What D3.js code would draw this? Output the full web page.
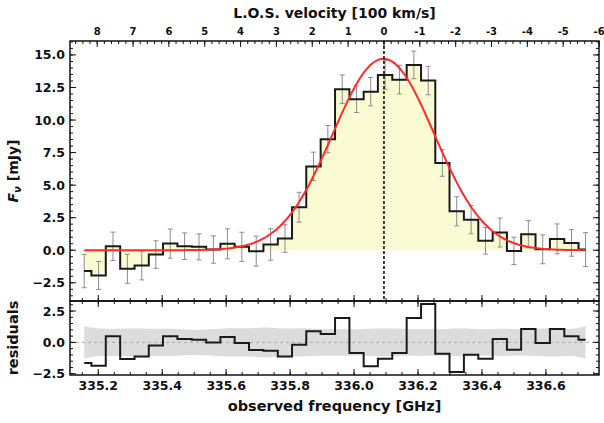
<!DOCTYPE html>
<html>
<head>
<meta charset="utf-8">
<script src="https://cdn.jsdelivr.net/npm/d3@7"></script>
<style>
  body { margin: 0; background: #fff; }
  svg { display: block; }
  text { font-family: "DejaVu Sans", sans-serif; font-weight: bold; fill: #111; }
</style>
</head>
<body>
<svg id="chart" width="604" height="423"></svg>
<script>
// Channel centres (GHz)
const freqGHz = [
  335.156, 335.201, 335.246, 335.291, 335.336, 335.380, 335.425, 335.470, 335.515,
  335.560, 335.604, 335.649, 335.694, 335.739, 335.784, 335.828, 335.873, 335.918,
  335.963, 336.008, 336.052, 336.097, 336.142, 336.187, 336.232, 336.276, 336.321,
  336.366, 336.411, 336.456, 336.500, 336.545, 336.590, 336.635, 336.680, 336.724
];
// Flux density per channel (mJy)
const fluxMJy = [
  -1.60, -1.94, 0.30, -1.43, -1.17, -0.33, 0.51, 0.31, 0.26,
  0.05, 0.49, 0.26, -0.07, 0.44, 0.90, 3.30, 6.44, 8.53,
  12.37, 11.60, 12.18, 13.46, 13.10, 14.23, 13.03, 6.70, 2.99,
  2.35, 0.72, 1.36, -0.05, 1.23, 0.07, 0.87, 0.56, 0.05
];
// 1-sigma channel uncertainties (mJy)
const fluxErr = [
  1.28, 1.07, 1.09, 1.11, 1.11, 1.06, 1.12, 1.02, 1.00,
  1.05, 1.15, 1.12, 1.15, 1.21, 1.06, 1.15, 1.09, 1.05,
  1.09, 1.02, 1.09, 1.10, 1.10, 1.06, 1.09, 1.02, 1.12,
  1.09, 1.02, 1.11, 1.05, 1.05, 1.11, 1.15, 1.02, 1.30
];
// Data minus Gaussian model (mJy)
const residMJy = [
  -1.65, -1.86, 0.48, -1.33, -1.12, -0.24, 0.48, 0.27, 0.21,
  0.00, 0.43, -0.05, -0.61, -0.66, -1.12, -0.19, 0.88, 0.66,
  1.94, -0.85, -1.91, -1.30, -0.85, 1.94, 3.06, -0.90, -2.37,
  -0.98, -1.30, 0.27, -0.59, 1.06, -0.05, 1.06, 0.48, 0.21
];

// Single Gaussian line fit
const fitPeakMJy = 14.7;
const fitCentreGHz = 336.092;
const fitSigmaGHz = 0.159;

// Velocity reference frequency (v = 0)
const restFreqGHz = 336.0935;
const cKms = 299792.458;

// Axis limits and ticks
const freqLimits = [335.1116, 336.766];
const fluxLimits = [-3.9, 16.07];
const residLimits = [-2.6, 3.3];
const freqTicks = [335.2, 335.4, 335.6, 335.8, 336.0, 336.2, 336.4, 336.6];
const velTicks = [8, 7, 6, 5, 4, 3, 2, 1, 0, -1, -2, -3, -4, -5, -6];
const fluxTicks = [-2.5, 0, 2.5, 5, 7.5, 10, 12.5, 15];
const residTicks = [-2.5, 0, 2.5];

// Panel geometry
const L = 70, R = 599, T = 41, MID = 301, B = 375;

const svg = d3.select("#chart");

const x = d3.scaleLinear().domain(freqLimits).range([L, R]);
const y = d3.scaleLinear().domain(fluxLimits).range([MID, T]);
const yr = d3.scaleLinear().domain(residLimits).range([B, MID]);
const toVel = f => cKms * (restFreqGHz - f) / restFreqGHz / 100;
const xv = d3.scaleLinear().domain(freqLimits.map(toVel)).range([L, R]);

const chan = freqGHz.map((f, i) => ({ f, v: fluxMJy[i], e: fluxErr[i], r: residMJy[i] }));

const defs = svg.append("defs");
defs.append("clipPath").attr("id", "clipMain")
  .append("rect").attr("x", L).attr("y", T).attr("width", R - L).attr("height", MID - T);
defs.append("clipPath").attr("id", "clipRes")
  .append("rect").attr("x", L).attr("y", MID).attr("width", R - L).attr("height", B - MID);

// ---------- main spectrum panel ----------
const gMain = svg.append("g").attr("clip-path", "url(#clipMain)");

gMain.append("path").datum(chan)
  .attr("d", d3.area().curve(d3.curveStep)
    .x(d => x(d.f)).y0(y(0)).y1(d => y(d.v)))
  .attr("fill", "#fbfbd3");

// error bars
const eb = gMain.append("g").attr("stroke", "#8c8c8c").attr("stroke-width", 1).attr("fill", "none");
eb.selectAll("path").data(chan).join("path")
  .attr("d", d => {
    const cx = x(d.f), y1 = y(d.v + d.e), y2 = y(d.v - d.e);
    return `M${cx},${y1}V${y2}M${cx - 2.5},${y1}H${cx + 2.5}M${cx - 2.5},${y2}H${cx + 2.5}`;
  });

gMain.append("path").datum(chan)
  .attr("d", d3.line().curve(d3.curveStep).x(d => x(d.f)).y(d => y(d.v)))
  .attr("fill", "none").attr("stroke", "#1a1a1a").attr("stroke-width", 2);

// Gaussian model, sampled across the observed band
const fitFreqs = d3.range(0, 241).map(k => freqGHz[0] + (freqGHz[freqGHz.length - 1] - freqGHz[0]) * k / 240);
gMain.append("path").datum(fitFreqs)
  .attr("d", d3.line()
    .x(f => x(f))
    .y(f => y(fitPeakMJy * Math.exp(-0.5 * Math.pow((f - fitCentreGHz) / fitSigmaGHz, 2)))))
  .attr("fill", "none").attr("stroke", "#ff2a2a").attr("stroke-width", 2);

// systemic velocity marker
gMain.append("line")
  .attr("x1", x(restFreqGHz)).attr("x2", x(restFreqGHz))
  .attr("y1", T).attr("y2", MID)
  .attr("stroke", "#111").attr("stroke-width", 1.6).attr("stroke-dasharray", "3,2");

// ---------- residual panel ----------
const gRes = svg.append("g").attr("clip-path", "url(#clipRes)");

gRes.append("path").datum(chan)
  .attr("d", d3.area().curve(d3.curveBasis)
    .x(d => x(d.f)).y0(d => yr(-d.e)).y1(d => yr(d.e)))
  .attr("fill", "#dcdcdc");

gRes.append("line")
  .attr("x1", L).attr("x2", R).attr("y1", yr(0)).attr("y2", yr(0))
  .attr("stroke", "#9a9a9a").attr("stroke-width", 0.8).attr("stroke-dasharray", "3,3");

gRes.append("path").datum(chan)
  .attr("d", d3.line().curve(d3.curveStep).x(d => x(d.f)).y(d => yr(d.r)))
  .attr("fill", "none").attr("stroke", "#1a1a1a").attr("stroke-width", 2);

// ---------- ticks ----------
const tickG = svg.append("g").attr("stroke", "#111").attr("stroke-width", 1);
function hTicks(scale, values, yPos, dir, len) {
  values.forEach(v => {
    const px = scale(v);
    if (px < L - 0.5 || px > R + 0.5) return;
    tickG.append("line").attr("x1", px).attr("x2", px).attr("y1", yPos).attr("y2", yPos + dir * len);
  });
}
function vTicks(scale, values, xPos, dir, len) {
  values.forEach(v => {
    const py = scale(v);
    tickG.append("line").attr("x1", xPos).attr("x2", xPos + dir * len).attr("y1", py).attr("y2", py);
  });
}
const freqMinor = d3.range(335.15, 336.76, 0.05).map(v => +v.toFixed(2));
const velMinor = d3.range(-30, 44).map(k => k / 5);
const fluxMinor = d3.range(-7, 33).map(k => k / 2);
const residMinor = d3.range(-5, 7).map(k => k / 2);

// main panel
hTicks(xv, velMinor, T, 1, 3);
hTicks(xv, velTicks, T, 1, 6);
hTicks(x, freqMinor, MID, -1, 3);
hTicks(x, freqTicks, MID, -1, 6);
vTicks(y, fluxMinor.filter(v => v > fluxLimits[0] && v < fluxLimits[1]), L, 1, 3);
vTicks(y, fluxTicks, L, 1, 6);
vTicks(y, fluxMinor.filter(v => v > fluxLimits[0] && v < fluxLimits[1]), R, -1, 3);
vTicks(y, fluxTicks, R, -1, 6);
// residual panel
hTicks(x, freqMinor, MID, 1, 3);
hTicks(x, freqTicks, MID, 1, 6);
hTicks(x, freqMinor, B, -1, 3);
hTicks(x, freqTicks, B, -1, 6);
vTicks(yr, residMinor.filter(v => v > residLimits[0] && v < residLimits[1]), L, 1, 3);
vTicks(yr, residTicks, L, 1, 6);
vTicks(yr, residMinor.filter(v => v > residLimits[0] && v < residLimits[1]), R, -1, 3);
vTicks(yr, residTicks, R, -1, 6);

// frames
svg.append("rect").attr("x", L).attr("y", T).attr("width", R - L).attr("height", MID - T)
  .attr("fill", "none").attr("stroke", "#111").attr("stroke-width", 1.5);
svg.append("rect").attr("x", L).attr("y", MID).attr("width", R - L).attr("height", B - MID)
  .attr("fill", "none").attr("stroke", "#111").attr("stroke-width", 1.5);

// ---------- labels ----------
const fmt1 = d3.format(".1f");
const minus = s => s.replace("-", "\u2212");

svg.append("g").selectAll("text").data(fluxTicks).join("text")
  .attr("x", L - 5).attr("y", d => y(d)).attr("dy", "0.36em")
  .attr("text-anchor", "end").attr("font-size", 12.5)
  .text(d => minus(fmt1(d)));

svg.append("g").selectAll("text").data(residTicks).join("text")
  .attr("x", L - 5).attr("y", d => yr(d)).attr("dy", "0.36em")
  .attr("text-anchor", "end").attr("font-size", 12.5)
  .text(d => minus(fmt1(d)));

svg.append("g").selectAll("text").data(freqTicks).join("text")
  .attr("x", d => x(d)).attr("y", 390)
  .attr("text-anchor", "middle").attr("font-size", 12.5)
  .text(d => fmt1(d));

svg.append("g").selectAll("text").data(velTicks).join("text")
  .attr("x", d => xv(d)).attr("y", 35)
  .attr("text-anchor", "middle").attr("font-size", 10)
  .text(d => String(d));

svg.append("text")
  .attr("x", (L + R) / 2).attr("y", 18).attr("text-anchor", "middle").attr("font-size", 14)
  .text("L.O.S. velocity [100 km/s]");

svg.append("text")
  .attr("x", (L + R) / 2).attr("y", 411).attr("text-anchor", "middle").attr("font-size", 14.5)
  .text("observed frequency [GHz]");

svg.append("text")
  .attr("transform", `translate(18,${(B + MID) / 2}) rotate(-90)`)
  .attr("text-anchor", "middle").attr("font-size", 14.5)
  .text("residuals");

const fl = svg.append("text")
  .attr("transform", `translate(18,${(T + MID) / 2}) rotate(-90)`)
  .attr("text-anchor", "middle").attr("font-size", 14);
fl.append("tspan").attr("font-style", "italic").text("F");
fl.append("tspan").attr("font-style", "italic").attr("font-size", 10).attr("dy", 3).text("\u03bd");
fl.append("tspan").attr("dy", -3).text(" [mJy]");
</script>
</body>
</html>
